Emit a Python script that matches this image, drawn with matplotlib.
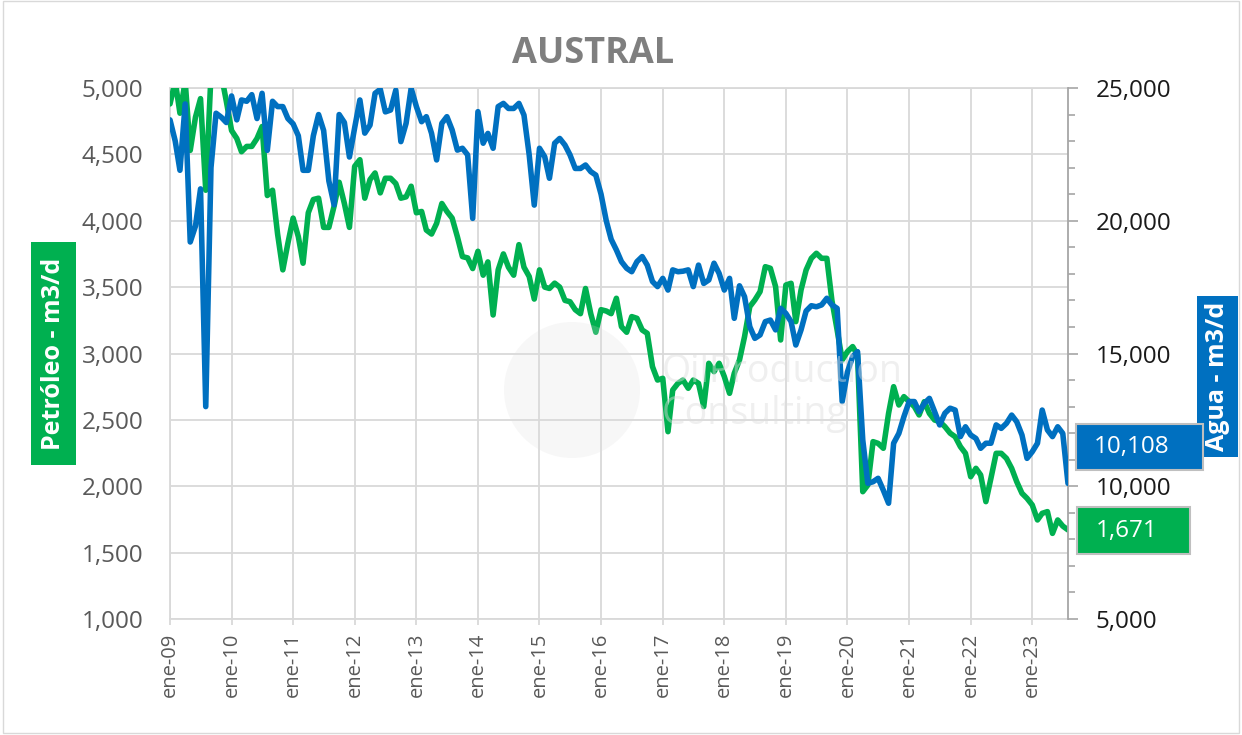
import numpy as np
import pandas as pd
import matplotlib
matplotlib.use("Agg")
import matplotlib.pyplot as plt
from matplotlib.patches import Rectangle, Ellipse
from matplotlib.ticker import MultipleLocator, FuncFormatter

plt.rcParams['font.family'] = ['Open Sans', 'DejaVu Sans']

# ---------------- data (monthly, ene-09 .. ago-23) ----------------
petroleo = [
    4880, 5050, 4810, 5050, 4530, 4780, 4920, 4230, 5100, 5150,
    5100, 4900, 4680, 4620, 4520, 4560, 4560, 4620, 4710, 4190,
    4230, 3900, 3630, 3830, 4020, 3880, 3680, 4060, 4160, 4170,
    3950, 3950, 4110, 4290, 4130, 3950, 4410, 4460, 4170, 4310,
    4360, 4210, 4320, 4320, 4280, 4170, 4180, 4260, 4060, 4070,
    3930, 3900, 3980, 4130, 4070, 4020, 3880, 3730, 3720, 3640,
    3770, 3590, 3690, 3290, 3630, 3750, 3650, 3590, 3820, 3650,
    3580, 3410, 3630, 3500, 3490, 3530, 3500, 3400, 3390, 3330,
    3300, 3490, 3300, 3160, 3330, 3320, 3300, 3416, 3202, 3160,
    3278, 3265, 3177, 3152, 2901, 2800, 2813, 2411, 2725, 2775,
    2800, 2738, 2800, 2775, 2600, 2926, 2863, 2926, 2826, 2700,
    2851, 2951, 3127, 3353, 3403, 3466, 3654, 3642, 3504, 3102,
    3516, 3529, 3240, 3479, 3629, 3717, 3755, 3717, 3717, 3400,
    3177, 2951, 3014, 3052, 2989, 1959, 2009, 2336, 2323, 2286,
    2549, 2750, 2612, 2675, 2637, 2600, 2537, 2637, 2549, 2499,
    2487, 2449, 2400, 2373, 2298, 2248, 2072, 2135, 2085, 1884,
    2060, 2248, 2248, 2210, 2135, 2034, 1947, 1909, 1859, 1746,
    1796, 1809, 1645, 1746, 1700, 1671,
]
agua = [
    23800, 23000, 21900, 24400, 19200, 19800, 21200, 13000, 22000, 24050,
    23900, 23700, 24700, 23800, 24550, 24500, 24750, 23850, 24800, 22650,
    24500, 24300, 24300, 23850, 23650, 23200, 21900, 21900, 23200, 24000,
    23400, 21500, 20600, 24000, 23700, 22400, 23500, 24550, 23300, 23600,
    24800, 24950, 24100, 24170, 24920, 22980, 23670, 24990, 24300, 23730,
    23920, 23290, 22290, 23670, 23920, 23420, 22660, 22730, 22480, 20090,
    24110, 22920, 23290, 22730, 24300, 24420, 24230, 24230, 24420, 23980,
    22480, 20590, 22730, 22410, 21600, 22920, 23100, 22850, 22480, 21970,
    21970, 22100, 21850, 21720, 21000, 20000, 19300, 18900, 18460, 18210,
    18080, 18460, 18650, 18330, 17710, 17520, 17830, 17390, 18150, 18080,
    18100, 18150, 17520, 18330, 17640, 17770, 18400, 18020, 17390, 17830,
    16325, 17550, 17140, 16010, 15570, 15700, 16200, 16260, 15890, 16700,
    16510, 16200, 15320, 15890, 16600, 16800, 16760, 16830, 17080, 16830,
    16700, 13190, 14300, 14880, 15070, 11740, 10110, 10170, 10300, 9850,
    9360, 11620, 11990, 12620, 13190, 13190, 12810, 13120, 13310, 12810,
    12310, 12750, 12940, 12870, 11870, 12240, 11930, 11800, 11430, 11620,
    11620, 12310, 12180, 12370, 12680, 12430, 11930, 11050, 11300, 11620,
    12870, 12120, 11870, 12240, 11990, 10108,
]
fecha_inicio = "2009-01-01"
anios_ticks = list(range(2009, 2024))
etiquetas_x = [f"ene-{a % 100:02d}" for a in anios_ticks]
titulo = "AUSTRAL"
label_izq = "Petróleo - m3/d"
label_der = "Agua - m3/d"

n = min(len(petroleo), len(agua))
fechas = pd.date_range(fecha_inicio, periods=n, freq="MS")
pet = np.array(petroleo[:n], dtype=float)
agu = np.array(agua[:n], dtype=float)

# ---------------- figure ----------------
W, H = 1242, 735
fig = plt.figure(figsize=(W / 100, H / 100), dpi=100)
fig.patch.set_facecolor("white")


def fx(px):
    return px / W


def fy(py):
    return 1 - py / H


ax = fig.add_axes([fx(170), fy(619), fx(1068) - fx(170), fy(88) - fy(619)])
ax2 = ax.twinx()

GRID = "#d9d9d9"
TXT = "#595959"

# left axis
ax.set_ylim(1000, 5000)
ax.yaxis.set_major_locator(MultipleLocator(500))
ax.yaxis.set_major_formatter(FuncFormatter(lambda v, p: f"{v:,.0f}"))
ax.tick_params(axis="y", length=0, pad=19, labelsize=17.5, labelcolor=TXT)

# x axis
tick_dates = pd.to_datetime([f"{a}-01-01" for a in anios_ticks])
ax.set_xlim(fechas[0], fechas[-1])
ax.set_xticks(tick_dates)
ax.set_xticklabels(etiquetas_x, rotation=90, ha="center", va="top")
ax.tick_params(axis="x", length=4, width=1.3, color=GRID, pad=6,
               labelsize=14.5, labelcolor=TXT)

ax.grid(True, which="major", color=GRID, lw=1.3)
ax.set_axisbelow(True)
for s in ["top", "left", "bottom", "right"]:
    ax.spines[s].set_color(GRID)
    ax.spines[s].set_linewidth(1.3)
ax.spines["right"].set_visible(False)

# right axis
ax2.set_ylim(5000, 25000)
ax2.yaxis.set_major_locator(MultipleLocator(5000))
ax2.yaxis.set_minor_locator(MultipleLocator(1000))
ax2.yaxis.set_major_formatter(FuncFormatter(lambda v, p: f"{v:,.0f}"))
ax2.tick_params(axis="y", which="major", length=7, width=1.2, color="#a6a6a6",
                pad=13, labelsize=17.5, labelcolor="#1a1a1a")
ax2.tick_params(axis="y", which="minor", length=5, width=1.2, color="#a6a6a6")
for s in ["top", "left", "bottom"]:
    ax2.spines[s].set_visible(False)
ax2.spines["right"].set_color("#a6a6a6")
ax2.spines["right"].set_linewidth(1.3)

# series
ax.plot(fechas, pet, color="#00B050", lw=4.0, solid_joinstyle="round",
        solid_capstyle="round", zorder=3)
ax2.plot(fechas, agu, color="#0070C0", lw=4.0, solid_joinstyle="round",
         solid_capstyle="round", zorder=3)

# watermark (faint, drawn over)
wm_col = "#dcdcdc"
fig.patches.append(Ellipse((fx(572), fy(390)), 136 / W, 136 / H,
                           transform=fig.transFigure, facecolor=wm_col,
                           edgecolor="none", alpha=0.22, zorder=5))
fig.text(fx(662), fy(372), "OilProduction", fontsize=27, color=wm_col, alpha=0.45,
         ha="left", va="center", zorder=5)
fig.text(fx(662), fy(414), "Consulting", fontsize=27, color=wm_col, alpha=0.45,
         ha="left", va="center", zorder=5)

# title
fig.text(fx(593), fy(63), titulo, ha="center", va="baseline", fontsize=26,
         fontweight="bold", color="#7f7f7f")

# axis title boxes
fig.patches.append(Rectangle((fx(31), fy(465)), fx(76) - fx(31), fy(242) - fy(465),
                             transform=fig.transFigure, facecolor="#00B050",
                             edgecolor="none", zorder=6))
fig.text(fx(53.5), fy(353.5), label_izq, rotation=90, ha="center", va="center",
         fontsize=18, fontweight="bold", color="white", zorder=7)

fig.patches.append(Rectangle((fx(1197), fy(457)), fx(1238) - fx(1197), fy(296) - fy(457),
                             transform=fig.transFigure, facecolor="#0070C0",
                             edgecolor="none", zorder=6))
fig.text(fx(1217.5), fy(376.5), label_der, rotation=90, ha="center", va="center",
         fontsize=18, fontweight="bold", color="white", zorder=7)

# last value boxes
fig.patches.append(Rectangle((fx(1076), fy(470)), fx(1203) - fx(1076), fy(424) - fy(470),
                             transform=fig.transFigure, facecolor="#0070C0",
                             edgecolor="#bfbfbf", lw=1.5, zorder=8))
fig.text(fx(1094), fy(447), f"{int(round(agu[-1])):,}", ha="left", va="center",
         fontsize=17.5, color="white", zorder=9)
fig.patches.append(Rectangle((fx(1077), fy(554)), fx(1190) - fx(1077), fy(507) - fy(554),
                             transform=fig.transFigure, facecolor="#00B050",
                             edgecolor="#bfbfbf", lw=1.5, zorder=8))
fig.text(fx(1096), fy(530.5), f"{int(round(pet[-1])):,}", ha="left", va="center",
         fontsize=17.5, color="white", zorder=9)

# outer frame
fig.patches.append(Rectangle((fx(3), fy(733)), fx(1239) - fx(3), fy(1) - fy(733),
                             transform=fig.transFigure, facecolor="none",
                             edgecolor="#d9d9d9", lw=1.0, zorder=1))

fig.savefig("out.png", dpi=100, facecolor="white")
